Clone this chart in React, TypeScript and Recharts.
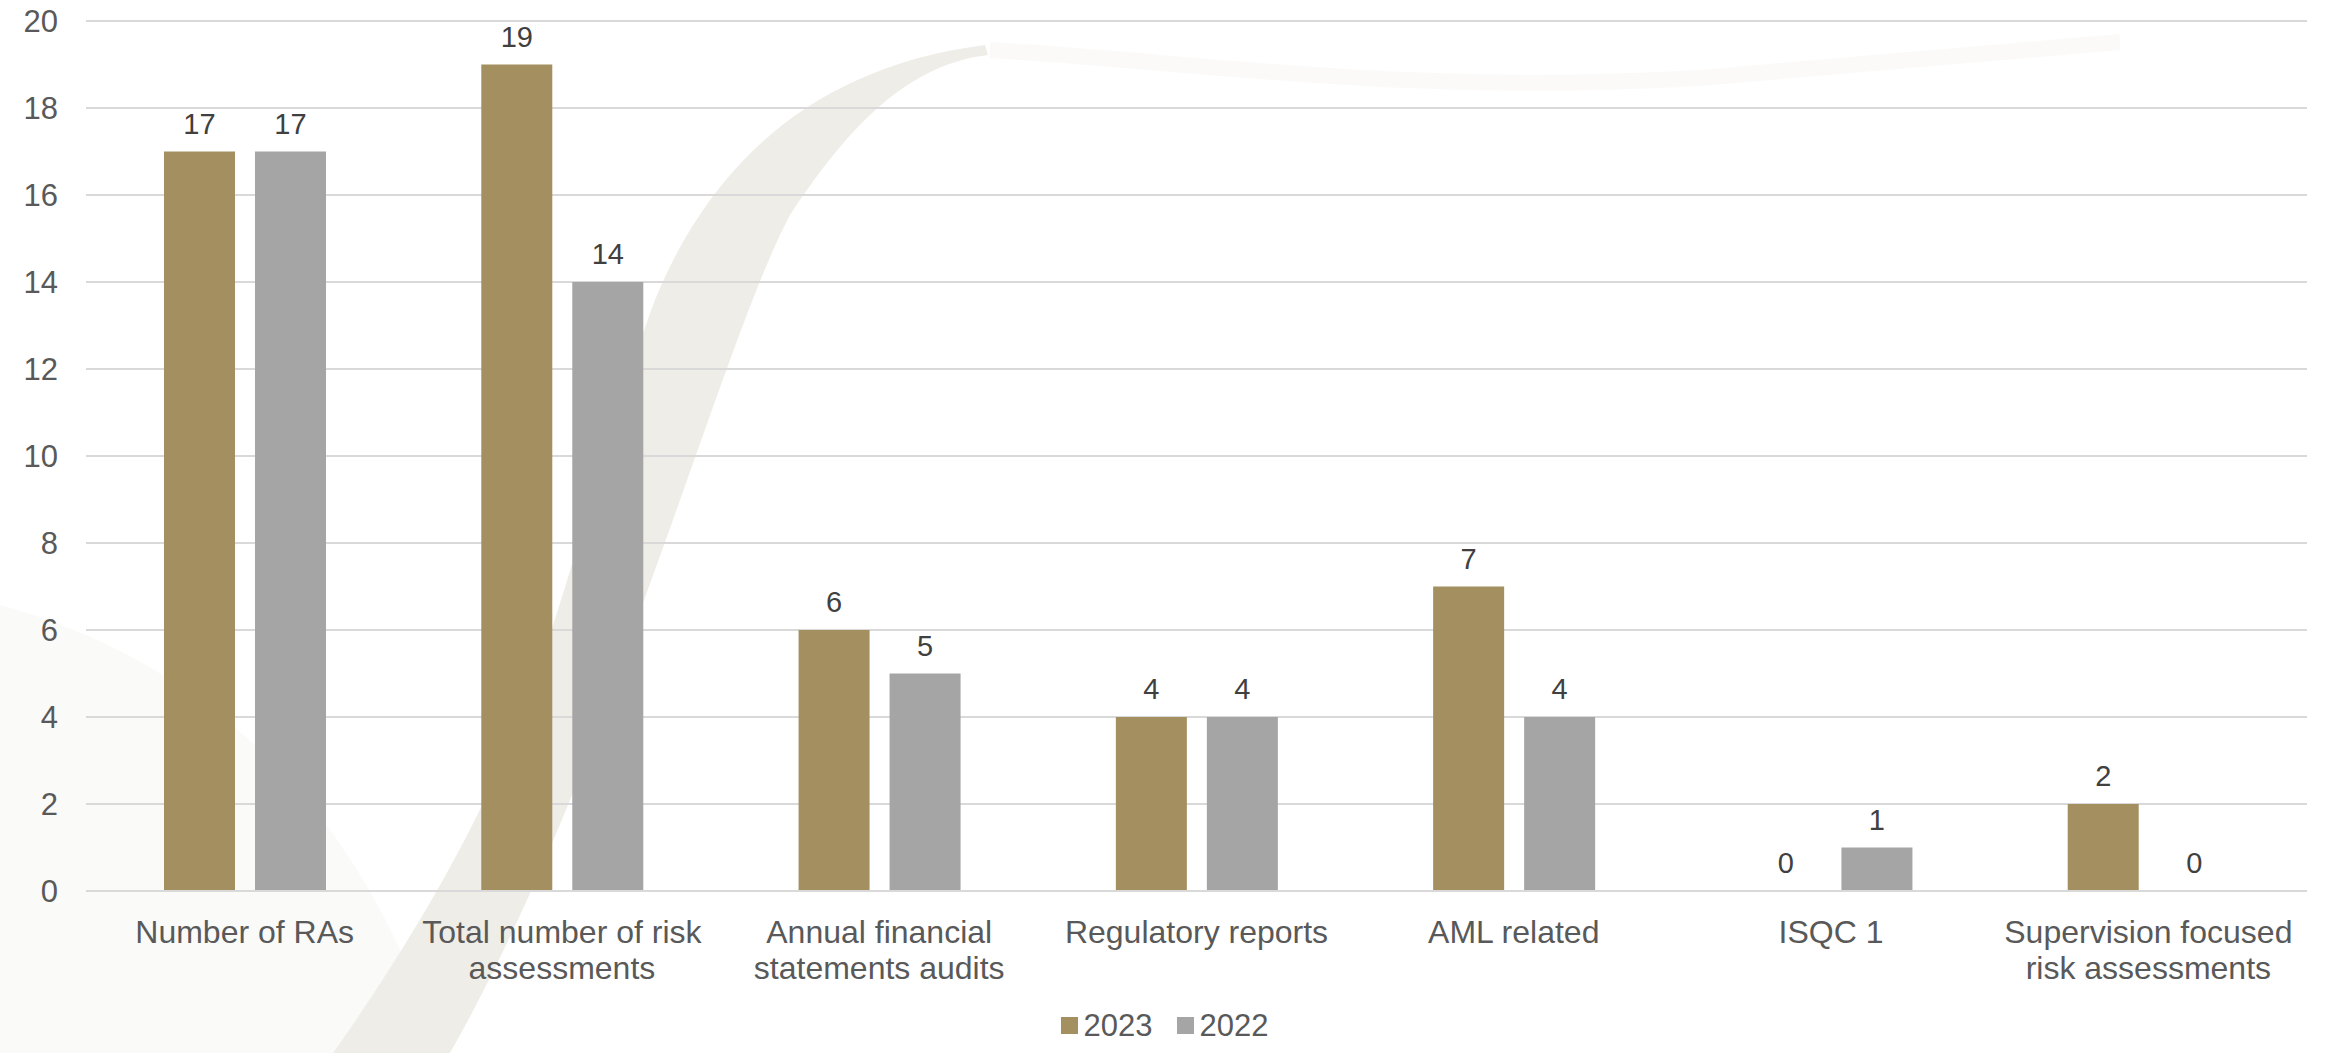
import { Bar, BarChart, CartesianGrid, Legend, XAxis, YAxis } from "recharts";

const categories = [
  "Number of RAs",
  "Total number of risk assessments",
  "Annual financial statements audits",
  "Regulatory reports",
  "AML related",
  "ISQC 1",
  "Supervision focused risk assessments",
];
const values2023 = [17, 19, 6, 4, 7, 0, 2];
const values2022 = [17, 14, 5, 4, 4, 1, 0];
const yTicks = [0, 2, 4, 6, 8, 10, 12, 14, 16, 18, 20];

const series = [
  { key: "y2023", name: "2023", color: "#A48F60" },
  { key: "y2022", name: "2022", color: "#A5A5A5" },
];

const data = categories.map((category, i) => ({
  category,
  y2023: values2023[i],
  y2022: values2022[i],
}));

const FONT = "'Liberation Sans', Arial, sans-serif";

function wrapWords(text: string, maxChars: number) {
  const lines: string[] = [];
  let cur = "";
  for (const w of text.split(" ")) {
    const next = cur ? cur + " " + w : w;
    if (next.length > maxChars && cur) {
      lines.push(cur);
      cur = w;
    } else {
      cur = next;
    }
  }
  if (cur) lines.push(cur);
  return lines;
}

function CategoryTick({ x, y, payload }: any) {
  const lines = wrapWords(payload.value, 21);
  return (
    <text x={x} y={y} textAnchor="middle" fill="#595959" fontSize={32} fontFamily={FONT}>
      {lines.map((line, i) => (
        <tspan key={i} x={x} dy={i === 0 ? 50 : 36}>
          {line}
        </tspan>
      ))}
    </text>
  );
}

// bar + value label in one shape so that zero values still get their "0"
function BarWithLabel(props: any) {
  const { x, y, width, height, fill, value } = props;
  const v = Array.isArray(value) ? value[1] - value[0] : value;
  return (
    <g>
      {height > 0 && <rect x={x} y={y} width={width} height={height} fill={fill} />}
      <text x={x + width / 2} y={y - 18} textAnchor="middle" fill="#404040" fontSize={29} fontFamily={FONT}>
        {v}
      </text>
    </g>
  );
}

function LegendContent() {
  return (
    <div style={{ height: 60, display: "flex", justifyContent: "center", alignItems: "center", paddingTop: 9, paddingLeft: 22, boxSizing: "border-box", fontFamily: FONT, fontSize: 31, color: "#595959" }}>
      {series.map((s, i) => (
        <div key={s.key} style={{ display: "flex", alignItems: "center", marginLeft: i === 0 ? 0 : 24 }}>
          <span style={{ width: 17, height: 17, background: s.color, display: "inline-block", marginRight: 6 }} />
          <span>{s.name}</span>
        </div>
      ))}
    </div>
  );
}

export default function App() {
  return (
    <div style={{ position: "absolute", left: 0, top: 0, width: 2331, height: 1053, background: "#fff", overflow: "hidden" }}>
      {/* faint decorative swoosh behind the chart */}
      <svg width={2331} height={1053} style={{ position: "absolute", left: 0, top: 0 }}>
        <path d="M0,605 C200,660 360,800 440,1053 L0,1053 Z" fill="#fafaf9" />
        <path d="M990,50 C1200,62 1400,95 1700,78 C1900,62 2050,48 2120,42" stroke="#fbfaf8" strokeWidth={16} fill="none" />
        <path
          d="M333,1053 C420,930 480,820 520,720 C570,590 610,420 655,300 C700,190 790,70 985,45 L988,55 C900,65 840,140 790,215 C750,290 700,450 633,630 C590,760 520,930 450,1053 Z"
          fill="#efede7"
        />
      </svg>
      <div style={{ position: "relative" }}>
        <BarChart
          width={2331}
          height={1053}
          data={data}
          margin={{ top: 21, right: 24, left: 0, bottom: 2 }}
          barSize={71}
          barGap={20}
        >
          <CartesianGrid vertical={false} stroke="#d9d9d9" strokeWidth={2} />
          <XAxis
            dataKey="category"
            height={100}
            interval={0}
            tickLine={false}
            tickSize={0}
            axisLine={{ stroke: "#d9d9d9", strokeWidth: 2 }}
            tick={<CategoryTick />}
          />
          <YAxis
            width={86}
            domain={[0, 20]}
            ticks={yTicks}
            axisLine={false}
            tickLine={false}
            tickSize={0}
            tickMargin={28}
            tick={{ fontSize: 31, fill: "#595959", fontFamily: FONT }}
          />
          <Legend verticalAlign="bottom" content={<LegendContent />} />
          {series.map((s) => (
            <Bar
              key={s.key}
              dataKey={s.key}
              name={s.name}
              fill={s.color}
              isAnimationActive={false}
              shape={<BarWithLabel />}
            />
          ))}
        </BarChart>
      </div>
    </div>
  );
}
